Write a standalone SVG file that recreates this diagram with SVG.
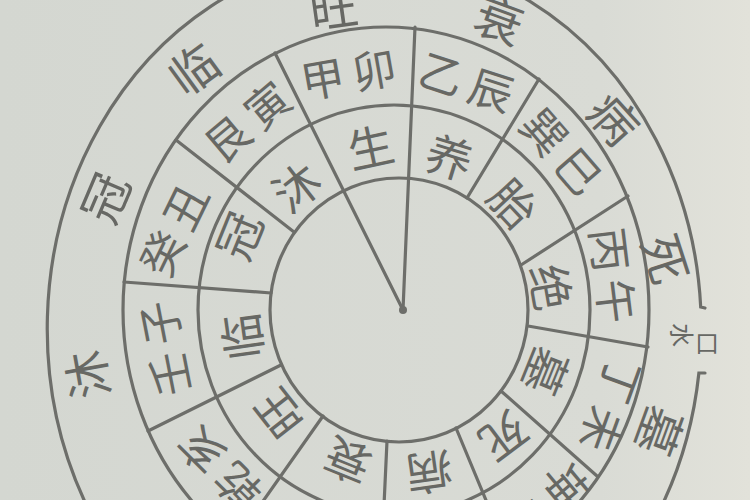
<svg xmlns="http://www.w3.org/2000/svg" width="750" height="500" viewBox="0 0 750 500">
<defs>
<linearGradient id="bg" x1="0" y1="0" x2="1" y2="0">
<stop offset="0" stop-color="#d4d7d1"/>
<stop offset="0.8" stop-color="#d9dbd5"/>
<stop offset="1" stop-color="#e2e2da"/>
</linearGradient>
<style>
.ln{stroke:#6d6e6a;stroke-width:3.2;fill:none;stroke-linecap:round}
.t{font-family:"Noto Sans CJK SC","Noto Sans CJK TC",sans-serif;fill:#676864;text-anchor:middle;dominant-baseline:central}
.s{font-size:44px}
.i{font-size:46px}
.o{font-size:48px}
.g{font-size:24px}
</style>
</defs>
<rect width="750" height="500" fill="url(#bg)"/>

<g id="rings">
<ellipse class="ln" cx="399" cy="310" rx="129" ry="132"/>
<ellipse class="ln" cx="394" cy="310" rx="196" ry="205"/>
<ellipse class="ln" cx="386" cy="310" rx="263" ry="283"/>
<path class="ln" d="M 705 308 L 700.7 307 A 327 372 0 1 0 698.9 373 L 705 373"/>
</g>

<g id="connectors">
<line class="ln" x1="403" y1="310" x2="415" y2="27"/>
<line class="ln" x1="403" y1="310" x2="275" y2="53"/>
<line class="ln" x1="467" y1="198" x2="539" y2="79"/>
<line class="ln" x1="521" y1="265" x2="628" y2="196"/>
<line class="ln" x1="528" y1="326" x2="648" y2="347"/>
<line class="ln" x1="501" y1="391" x2="597" y2="476"/>
<line class="ln" x1="456" y1="428" x2="515" y2="570"/>
<line class="ln" x1="387" y1="441" x2="381" y2="570"/>
<line class="ln" x1="323" y1="416" x2="223" y2="558"/>
<line class="ln" x1="281" y1="365" x2="148" y2="431"/>
<line class="ln" x1="271" y1="293" x2="124" y2="282"/>
<line class="ln" x1="294" y1="232" x2="176" y2="140"/>
<circle cx="403" cy="310" r="4" fill="#6d6e6a"/>
</g>

<g id="stems">
<g id="n-jiamao" transform="translate(348,72) rotate(-10)"><text class="t s" x="-26">甲</text><text class="t s" x="26">卯</text></g>
<g id="n-yichen" transform="translate(467,80) rotate(18)"><text class="t s" x="-26">乙</text><text class="t s" x="26">辰</text></g>
<g id="n-xunsi" transform="translate(563,150) rotate(49)"><text class="t s" x="-26">巽</text><text class="t s" x="26">巳</text></g>
<g id="n-bingwu" transform="translate(615,275) rotate(83)"><text class="t s" x="-26">丙</text><text class="t s" x="26">午</text></g>
<g id="n-dingwei" transform="translate(613,406) rotate(110)"><text class="t s" x="-26">丁</text><text class="t s" x="26">未</text></g>
<g id="n-kunshen" transform="translate(547,503) rotate(140)"><text class="t s" x="-26">坤</text><text class="t s" x="26">申</text></g>
<g id="n-qianhai" transform="translate(218,470) rotate(225)"><text class="t s" x="-26">乾</text><text class="t s" x="26">亥</text></g>
<g id="n-renzi" transform="translate(163,349) rotate(259)"><text class="t s" x="-26">壬</text><text class="t s" x="26">子</text></g>
<g id="n-guichou" transform="translate(172,229) rotate(-64)"><text class="t s" x="-26">癸</text><text class="t s" x="26">丑</text></g>
<g id="n-genyin" transform="translate(246,120) rotate(-40)"><text class="t s" x="-26">艮</text><text class="t s" x="26">寅</text></g>
</g>

<g id="inner">
<g id="i-sheng" transform="translate(370,145) rotate(-12)"><text class="t i">生</text></g>
<g id="i-yang" transform="translate(450,155) rotate(17)"><text class="t i">养</text></g>
<g id="i-tai" transform="translate(515,202) rotate(47)"><text class="t i">胎</text></g>
<g id="i-jue" transform="translate(553,287) rotate(80)"><text class="t i">绝</text></g>
<g id="i-mu" transform="translate(548,372) rotate(112)"><text class="t i">墓</text></g>
<g id="i-si" transform="translate(505,438) rotate(143)"><text class="t i">死</text></g>
<g id="i-bing" transform="translate(430,475) rotate(172)"><text class="t i">病</text></g>
<g id="i-shuai" transform="translate(347,463) rotate(202)"><text class="t i">衰</text></g>
<g id="i-wang" transform="translate(277,415) rotate(232)"><text class="t i">旺</text></g>
<g id="i-lin" transform="translate(240,337) rotate(262)"><text class="t i">临</text></g>
<g id="i-guan" transform="translate(237,235) rotate(292)"><text class="t i">冠</text></g>
<g id="i-mu2" transform="translate(295,185) rotate(322)"><text class="t i">沐</text></g>
</g>

<g id="outer">
<g id="o-mu" transform="translate(85,375) rotate(-100)"><text class="t o">沐</text></g>
<g id="o-guan" transform="translate(103,197) rotate(-67)"><text class="t o">冠</text></g>
<g id="o-lin" transform="translate(192,67) rotate(-36)"><text class="t o">临</text></g>
<g id="o-wang" transform="translate(333,5) rotate(-8)"><text class="t o">旺</text></g>
<g id="o-shuai" transform="translate(500,18) rotate(20)"><text class="t o">衰</text></g>
<g id="o-bing" transform="translate(616,117) rotate(48)"><text class="t o">病</text></g>
<g id="o-si" transform="translate(668,258) rotate(72)"><text class="t o">死</text></g>
<g id="o-shuikou"><text class="t g" transform="translate(683,335) rotate(90)">水</text><text class="t g" transform="translate(707,341)">口</text></g>
<g id="o-mu3" transform="translate(662,432) rotate(110)"><text class="t o">墓</text></g>
</g>
</svg>
